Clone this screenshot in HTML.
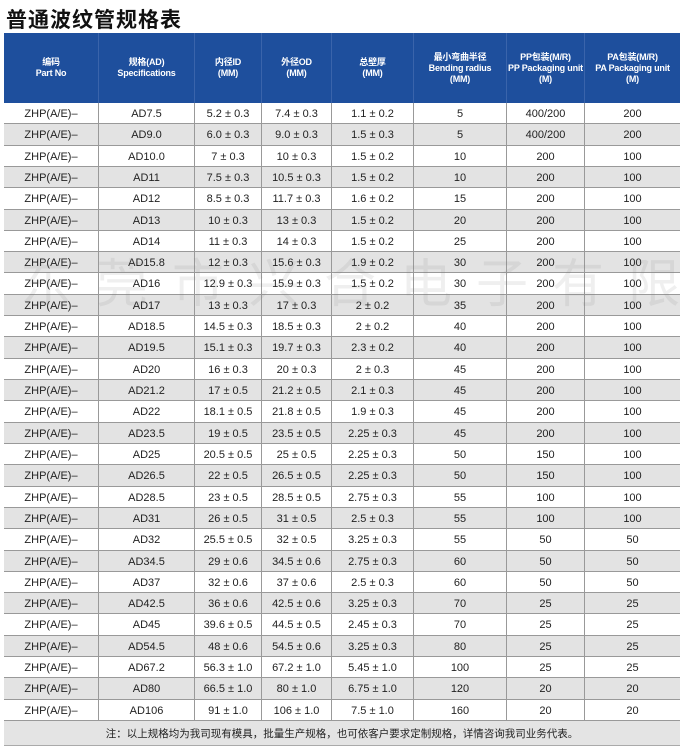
<!DOCTYPE html>
<html><head><meta charset="utf-8"><style>
body{margin:0;width:682px;height:750px;background:#fff;position:relative;overflow:hidden;font-family:"Liberation Sans","Noto Sans CJK SC",sans-serif;}
.t{position:absolute;left:6px;top:4px;font-size:21px;font-weight:bold;color:#111;font-family:"Noto Sans CJK SC",sans-serif;letter-spacing:1px}
.hd{position:absolute;left:4px;top:33px;width:676px;height:70px;background:#1e4f9d}
.c{position:absolute;display:flex;align-items:center;justify-content:center;text-align:center;box-sizing:border-box}
.h{color:#fff;font-size:9px;font-weight:bold;line-height:11px;border-right:1px solid #3a64ab;white-space:nowrap;letter-spacing:-0.2px}
.r{position:absolute;left:4px;width:676px;border-bottom:1px solid #999;box-sizing:border-box}
.d{font-size:11px;color:#222;border-right:1px solid #999}
.note{position:absolute;left:4px;top:721px;width:676px;height:24px;background:#e4e4e4;font-size:10.5px;color:#222;display:flex;align-items:center;justify-content:center;font-family:"Noto Sans CJK SC",sans-serif;border-bottom:1px solid #aaa}
.wm{position:absolute;left:20px;top:242px;font-size:52px;color:rgba(120,120,120,0.12);letter-spacing:24px;font-family:"Noto Sans CJK SC",sans-serif;white-space:nowrap}
</style></head><body>
<div class="t">普通波纹管规格表</div>
<div class="hd"></div>
<div id="tb"></div>
<div class="note">注：以上规格均为我司现有模具，批量生产规格，也可依客户要求定制规格，详情咨询我司业务代表。</div>
<div class="wm">东莞市兴合电子有限公司</div>
<script>
var X=[4,99,195,262,332,414,507,585,680];
var H=["编码<br>Part No","规格(AD)<br>Specifications","内径ID<br>(MM)","外径OD<br>(MM)","总壁厚<br>(MM)","最小弯曲半径<br>Bending radius<br>(MM)","PP包装(M/R)<br>PP Packaging unit<br>(M)","PA包装(M/R)<br>PA Packaging unit<br>(M)"];
var D=[["AD7.5","5.2 ± 0.3","7.4 ± 0.3","1.1 ± 0.2","5","400/200","200"],
["AD9.0","6.0 ± 0.3","9.0 ± 0.3","1.5 ± 0.3","5","400/200","200"],
["AD10.0","7 ± 0.3","10 ± 0.3","1.5 ± 0.2","10","200","100"],
["AD11","7.5 ± 0.3","10.5 ± 0.3","1.5 ± 0.2","10","200","100"],
["AD12","8.5 ± 0.3","11.7 ± 0.3","1.6 ± 0.2","15","200","100"],
["AD13","10 ± 0.3","13 ± 0.3","1.5 ± 0.2","20","200","100"],
["AD14","11 ± 0.3","14 ± 0.3","1.5 ± 0.2","25","200","100"],
["AD15.8","12 ± 0.3","15.6 ± 0.3","1.9 ± 0.2","30","200","100"],
["AD16","12.9 ± 0.3","15.9 ± 0.3","1.5 ± 0.2","30","200","100"],
["AD17","13 ± 0.3","17 ± 0.3","2 ± 0.2","35","200","100"],
["AD18.5","14.5 ± 0.3","18.5 ± 0.3","2 ± 0.2","40","200","100"],
["AD19.5","15.1 ± 0.3","19.7 ± 0.3","2.3 ± 0.2","40","200","100"],
["AD20","16 ± 0.3","20 ± 0.3","2 ± 0.3","45","200","100"],
["AD21.2","17 ± 0.5","21.2 ± 0.5","2.1 ± 0.3","45","200","100"],
["AD22","18.1 ± 0.5","21.8 ± 0.5","1.9 ± 0.3","45","200","100"],
["AD23.5","19 ± 0.5","23.5 ± 0.5","2.25 ± 0.3","45","200","100"],
["AD25","20.5 ± 0.5","25 ± 0.5","2.25 ± 0.3","50","150","100"],
["AD26.5","22 ± 0.5","26.5 ± 0.5","2.25 ± 0.3","50","150","100"],
["AD28.5","23 ± 0.5","28.5 ± 0.5","2.75 ± 0.3","55","100","100"],
["AD31","26 ± 0.5","31 ± 0.5","2.5 ± 0.3","55","100","100"],
["AD32","25.5 ± 0.5","32 ± 0.5","3.25 ± 0.3","55","50","50"],
["AD34.5","29 ± 0.6","34.5 ± 0.6","2.75 ± 0.3","60","50","50"],
["AD37","32 ± 0.6","37 ± 0.6","2.5 ± 0.3","60","50","50"],
["AD42.5","36 ± 0.6","42.5 ± 0.6","3.25 ± 0.3","70","25","25"],
["AD45","39.6 ± 0.5","44.5 ± 0.5","2.45 ± 0.3","70","25","25"],
["AD54.5","48 ± 0.6","54.5 ± 0.6","3.25 ± 0.3","80","25","25"],
["AD67.2","56.3 ± 1.0","67.2 ± 1.0","5.45 ± 1.0","100","25","25"],
["AD80","66.5 ± 1.0","80 ± 1.0","6.75 ± 1.0","120","20","20"],
["AD106","91 ± 1.0","106 ± 1.0","7.5 ± 1.0","160","20","20"]];
var s="";
for(var j=0;j<8;j++){s+='<div class="c h" style="left:'+X[j]+'px;top:33px;width:'+(X[j+1]-X[j])+'px;height:70px;'+(j==7?'border-right:none':'')+'">'+H[j]+'</div>';}
var rh=618/29,t0=103;
for(var i=0;i<D.length;i++){var y=Math.round(t0+i*rh),y2=Math.round(t0+(i+1)*rh),h=y2-y;var row=["ZHP(A/E)–"].concat(D[i]);
s+='<div class="r" style="top:'+y+'px;height:'+h+'px;background:'+(i%2?'#e3e3e3':'#fff')+'"></div>';
for(var j=0;j<8;j++){s+='<div class="c d" style="left:'+X[j]+'px;top:'+y+'px;width:'+(X[j+1]-X[j])+'px;height:'+h+'px;'+(j==7?'border-right:none':'')+'">'+row[j]+'</div>';}}
document.getElementById("tb").innerHTML=s;
</script>
</body></html>
